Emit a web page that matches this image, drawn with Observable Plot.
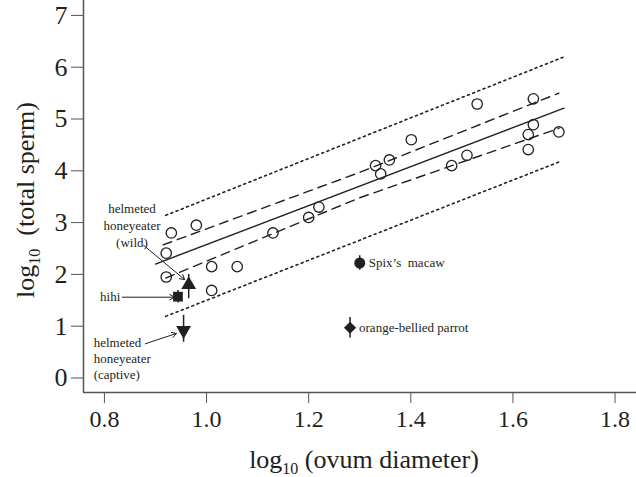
<!DOCTYPE html>
<html><head><meta charset="utf-8">
<script src="https://cdn.jsdelivr.net/npm/d3@7"></script>
<script src="https://cdn.jsdelivr.net/npm/@observablehq/plot@0.6"></script>
<style>body{margin:0;background:#fff} svg{display:block}</style>
</head><body><div id="chart"></div>
<script>
// ---- data ----
const circleX = [0.921,0.931,0.980,0.921,1.010,1.060,1.010,1.130,1.200,1.220,1.331,1.341,1.358,1.401,1.480,1.510,1.530,1.640,1.640,1.630,1.630,1.690];
const circleY = [2.41,2.80,2.95,1.95,2.15,2.15,1.69,2.80,3.10,3.30,4.10,3.94,4.21,4.60,4.10,4.30,5.29,5.39,4.89,4.70,4.41,4.75];

const fitX = [0.90, 1.70];
const fitY = [2.20, 5.21];
const ciUpperX = [0.915, 1.30, 1.69];
const ciUpperY = [2.57, 3.97, 5.50];
const ciLowerX = [0.92, 1.30, 1.69];
const ciLowerY = [1.93, 3.48, 4.82];
const piUpperX = [0.92, 1.70];
const piUpperY = [3.14, 6.20];
const piLowerX = [0.92, 1.69];
const piLowerY = [1.19, 4.17];

const speciesNames = ["Spix’s macaw", "orange-bellied parrot", "hihi", "helmeted honeyeater (wild)", "helmeted honeyeater (captive)"];
const speciesX = [1.300, 1.281, 0.944, 0.965, 0.955];
const speciesY = [2.22, 0.97, 1.57, 1.80, 0.92];
const speciesLo = [2.08, 0.77, 1.45, 1.53, 0.69];
const speciesHi = [2.36, 1.17, 1.69, 2.00, 1.21];

const labelText = ["helmeted\nhoneyeater\n(wild)", "hihi", "helmeted\nhoneyeater\n(captive)", "Spix’s  macaw", "orange-bellied parrot"];
const labelX = [0.854, 0.831, 0.779, 1.300, 1.281];
const labelY = [2.96, 1.56, 0.39, 2.22, 0.97];

const arrowX1 = [0.877, 0.835, 0.880];
const arrowY1 = [2.56, 1.56, 0.66];
const arrowX2 = [0.957, 0.937, 0.941];
const arrowY2 = [1.90, 1.56, 0.86];

const xTicks = [0.8, 1.0, 1.2, 1.4, 1.6, 1.8];
const yTicks = [0, 1, 2, 3, 4, 5, 6, 7];
const xDomain = [0.759, 1.842];
const yDomain = [-0.28, 7.288];

// ---- tables ----
const circles = circleX.map((x, i) => ({x, y: circleY[i]}));
const toPts = (xs, ys) => xs.map((x, i) => ({x, y: ys[i]}));
const species = speciesNames.map((name, i) => ({name, x: speciesX[i], y: speciesY[i], lo: speciesLo[i], hi: speciesHi[i]}));
const labels = labelText.map((t, i) => ({t, x: labelX[i], y: labelY[i]}));
const arrows = arrowX1.map((x1, i) => ({x1, y1: arrowY1[i], x2: arrowX2[i], y2: arrowY2[i]}));

const ink = "#231f20";
const serif = "Liberation Serif, Times New Roman, serif";

const plot = Plot.plot({
  width: 636, height: 477,
  marginLeft: 83, marginRight: 0, marginTop: 0, marginBottom: 85,
  style: {fontFamily: serif, background: "white", color: ink},
  x: {domain: xDomain},
  y: {domain: yDomain},
  symbol: {domain: speciesNames, range: ["circle", "diamond2", "square", "triangle", "triangle"]},
  marks: [
    Plot.axisX({ticks: xTicks, tickFormat: d => d.toFixed(1), tickSize: 11, tickPadding: 6, fontSize: 24, label: null, stroke: "#555"}),
    Plot.axisY({ticks: yTicks, tickSize: 12, tickPadding: 4, fontSize: 26, label: null, stroke: "#555"}),
    Plot.ruleX([xDomain[0]], {stroke: "#555", strokeWidth: 1.5}),
    Plot.ruleY([yDomain[0]], {stroke: "#555", strokeWidth: 1.5}),
    Plot.line(toPts(piUpperX, piUpperY), {x: "x", y: "y", stroke: ink, strokeWidth: 1.6, strokeDasharray: "2,3.6"}),
    Plot.line(toPts(piLowerX, piLowerY), {x: "x", y: "y", stroke: ink, strokeWidth: 1.6, strokeDasharray: "2,3.6"}),
    Plot.line(toPts(ciUpperX, ciUpperY), {x: "x", y: "y", stroke: ink, strokeWidth: 1.4, strokeDasharray: "9,6"}),
    Plot.line(toPts(ciLowerX, ciLowerY), {x: "x", y: "y", stroke: ink, strokeWidth: 1.4, strokeDasharray: "9,6"}),
    Plot.line(toPts(fitX, fitY), {x: "x", y: "y", stroke: ink, strokeWidth: 1.4}),
    Plot.dot(circles, {x: "x", y: "y", r: 5.2, stroke: ink, strokeWidth: 1.3, fill: "none"}),
    Plot.ruleX(species, {x: "x", y1: "lo", y2: "hi", stroke: ink, strokeWidth: 1.5}),
    Plot.dot(species, {x: "x", y: "y", symbol: "name", r: 5.5, fill: ink, stroke: "none",
      rotate: d => d.name.includes("captive") ? 180 : 0}),
    Plot.arrow(arrows, {x1: "x1", y1: "y1", x2: "x2", y2: "y2", stroke: ink, strokeWidth: 1, headLength: 8}),
    Plot.text(labels.slice(0, 1), {x: "x", y: "y", text: "t", textAnchor: "middle", fontSize: 13, lineHeight: 1.28, fill: ink}),
    Plot.text(labels.slice(1, 2), {x: "x", y: "y", text: "t", textAnchor: "end", fontSize: 13, fill: ink}),
    Plot.text(labels.slice(2, 3), {x: "x", y: "y", text: "t", textAnchor: "start", fontSize: 13, lineHeight: 1.22, fill: ink}),
    Plot.text(labels.slice(3), {x: "x", y: "y", text: "t", textAnchor: "start", dx: 9, fontSize: 13, fill: ink})
  ]
});

const svg = d3.select(plot);
// y-axis title with subscript
const yt = svg.append("text")
  .attr("transform", "translate(34,200) rotate(-90)")
  .attr("text-anchor", "middle")
  .attr("font-family", serif).attr("font-size", 26).attr("fill", ink);
yt.append("tspan").text("log");
yt.append("tspan").attr("font-size", 16).attr("dy", 6).text("10");
yt.append("tspan").attr("dy", -6).text("\u00a0\u00a0(total sperm)");
// x-axis title with subscript
const xt = svg.append("text")
  .attr("x", 364).attr("y", 468)
  .attr("text-anchor", "middle")
  .attr("font-family", serif).attr("font-size", 26).attr("fill", ink);
xt.append("tspan").text("log");
xt.append("tspan").attr("font-size", 16).attr("dy", 6).text("10");
xt.append("tspan").attr("dy", -6).text(" (ovum diameter)");

document.getElementById("chart").appendChild(plot);
</script>
</body></html>
